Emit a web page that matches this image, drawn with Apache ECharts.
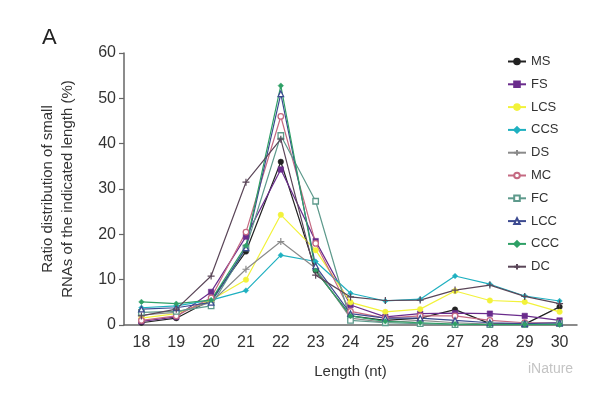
<!DOCTYPE html>
<html>
<head>
<meta charset="utf-8">
<script src="https://cdn.jsdelivr.net/npm/echarts@6/dist/echarts.min.js"></script>
<style>
html,body{margin:0;padding:0;background:#fff;}
#c{width:600px;height:394px;}
</style>
</head>
<body>
<div id="c"></div>
<script>
const categories = ['18','19','20','21','22','23','24','25','26','27','28','29','30'];
const MS  = [0.5, 1.5, 5.5, 16.2, 36.0, 12.0, 2.0, 1.0, 1.5, 3.4, 0.3, 0.2, 4.0];
const FS  = [0.8, 1.8, 7.3, 19.5, 34.3, 18.5, 4.4, 1.8, 2.5, 2.6, 2.5, 2.0, 1.0];
const LCS = [1.5, 2.5, 5.5, 10.0, 24.3, 16.5, 5.0, 2.9, 3.5, 7.5, 5.4, 5.1, 2.9];
const CCS = [3.8, 4.2, 5.5, 7.6, 15.4, 14.0, 7.0, 5.3, 5.7, 10.8, 9.0, 6.4, 5.3];
const DS  = [2.2, 2.8, 5.0, 12.3, 18.4, 12.5, 1.5, 0.6, 1.0, 0.5, 0.2, 0.1, 0.2];
const MC  = [1.0, 2.0, 6.0, 20.5, 46.0, 18.0, 3.0, 1.5, 2.0, 2.0, 1.0, 0.5, 0.5];
const FC  = [2.8, 3.0, 4.2, 17.0, 41.8, 27.3, 1.0, 0.5, 0.3, 0.1, 0.1, 0.1, 0.3];
const LCC = [3.5, 3.8, 5.0, 17.0, 51.0, 13.0, 2.5, 1.5, 1.5, 1.0, 0.5, 0.3, 0.5];
const CCC = [5.1, 4.7, 5.5, 17.5, 52.8, 12.0, 2.0, 0.8, 0.5, 0.2, 0.1, 0.1, 0.1];
const DC  = [2.0, 3.5, 10.8, 31.5, 41.0, 11.0, 6.2, 5.4, 5.5, 7.7, 8.8, 6.3, 4.7];
const yTicks = [0, 10, 20, 30, 40, 50, 60];

const seriesDefs = [
  {name:'MS',  data:MS,  color:'#222222', symbol:'circle', hollow:false},
  {name:'FS',  data:FS,  color:'#6a2c8c', symbol:'rect', hollow:false},
  {name:'LCS', data:LCS, color:'#f2f23a', symbol:'circle', hollow:false},
  {name:'CCS', data:CCS, color:'#1fb0c0', symbol:'diamond', hollow:false},
  {name:'DS',  data:DS,  color:'#8a8a8a', symbol:'path://M-1,0L1,0M0,-1L0,1', hollow:false, cross:true},
  {name:'MC',  data:MC,  color:'#c56a82', symbol:'circle', hollow:true},
  {name:'FC',  data:FC,  color:'#5e9a8c', symbol:'rect', hollow:true},
  {name:'LCC', data:LCC, color:'#3c4a90', symbol:'triangle', hollow:true},
  {name:'CCC', data:CCC, color:'#2fa066', symbol:'diamond', hollow:false},
  {name:'DC',  data:DC,  color:'#5a4658', symbol:'path://M-1,0L1,0M0,-1L0,1', hollow:false, cross:true}
];

const FONT = 'Liberation Sans, Arial, sans-serif';
const chart = echarts.init(document.getElementById('c'), null, {renderer:'canvas'});
chart.setOption({
  backgroundColor:'#ffffff',
  animation:false,
  textStyle:{fontFamily:FONT},
  grid:{left:124, right:23, top:53, bottom:69, containLabel:false},
  title:{text:'A', left:37, top:22, textStyle:{fontSize:22, fontWeight:'normal', color:'#222', fontFamily:FONT}},
  legend:{
    orient:'vertical', left:502, top:50, itemWidth:18, itemHeight:7, itemGap:9.8,
    textStyle:{fontSize:13, color:'#333', fontFamily:FONT},
    data: seriesDefs.map(s=>s.name)
  },
  xAxis:{
    type:'category', data:categories, boundaryGap:true,
    name:'Length (nt)', nameLocation:'middle', nameGap:39,
    nameTextStyle:{fontSize:15, color:'#333', fontFamily:FONT},
    axisLine:{lineStyle:{color:'#666', width:1.5}},
    axisTick:{inside:true, length:5, alignWithLabel:false, lineStyle:{color:'#666', width:1.2}},
    axisLabel:{fontSize:16, color:'#333', margin:10, fontFamily:FONT}
  },
  yAxis:{
    type:'value', min:0, max:60, interval:10,
    name:'Ratio distribution of small\nRNAs of the indicated length (%)',
    nameLocation:'middle', nameGap:46, nameRotate:90,
    nameTextStyle:{fontSize:15, color:'#333', lineHeight:20, fontFamily:FONT},
    splitLine:{show:false},
    axisLine:{show:true, lineStyle:{color:'#666', width:1.5}},
    axisTick:{show:true, length:5, lineStyle:{color:'#666', width:1.2}},
    axisLabel:{fontSize:16, color:'#333', margin:8, fontFamily:FONT}
  },
  graphic:[{type:'text', left:528, top:362, style:{text:'iNature', fill:'#c4c4c4', font:'14px '+FONT}}],
  series: seriesDefs.map(s=>({
    name:s.name, type:'line', data:s.data,
    symbol:s.symbol, symbolSize: s.cross ? 7 : 5.5,
    showAllSymbol:true,
    lineStyle:{color:s.color, width:1.2},
    itemStyle:{color: s.hollow ? '#ffffff' : s.color, borderColor:s.color, borderWidth: s.cross?1.2:(s.hollow?1.3:0.5)},
    emphasis:{disabled:true}
  }))
});
</script>
</body>
</html>
